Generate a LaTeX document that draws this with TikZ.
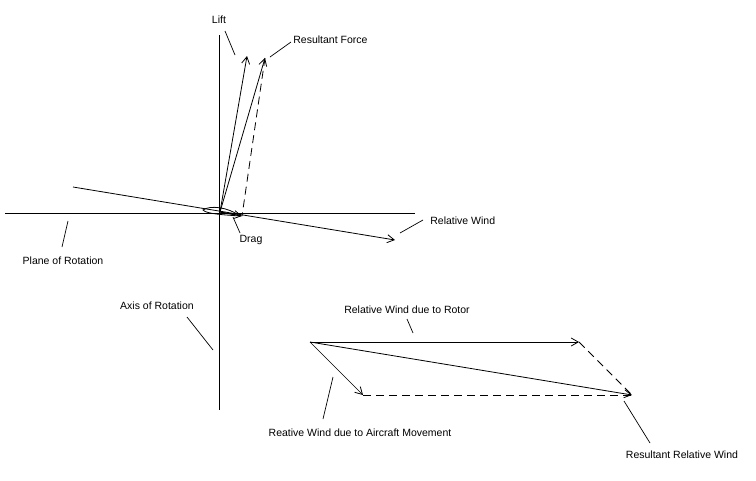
\documentclass[tikz,border=0pt]{standalone}
\usepackage{fontspec}
\setmainfont{Liberation Sans}
\usetikzlibrary{arrows.meta}
\begin{document}
\begin{tikzpicture}[x=1pt,y=-1pt,
  line width=0.8pt,
  vec/.style={-{Straight Barb[length=7pt,width=8pt,line width=0.8pt]}},
  dsh/.style={dash pattern=on 8pt off 5pt},
  lead/.style={line width=0.7pt},
  lbl/.style={font=\fontsize{10.5}{12}\selectfont, inner sep=0pt}]
\useasboundingbox (0,0) rectangle (756,480);
% key points
\coordinate (O) at (220,212);
\coordinate (hl) at (5,213);
\coordinate (hr) at (415,213);
\coordinate (vt) at (219,35);
\coordinate (vb) at (219,410);
\coordinate (cs) at (73,187);
\coordinate (rw) at (395,240);
\coordinate (lift) at (247,56);
\coordinate (res) at (265,58);
\coordinate (drag) at (242,216);
% axes
\draw (hl) -- (hr);
\draw (vt) -- (vb);
% chord / relative wind
\draw[vec] (cs) -- (rw);
% airfoil
\draw (240,216) .. controls (228,207) and (210,205) .. (203,210)
      .. controls (206,214) and (226,215) .. (240,216);
% forces
\draw[vec] (O) -- (lift);
\draw[vec] (O) -- (res);
\draw[vec, line width=1.2pt] (O) -- (drag);
\draw[dsh] (res) -- (drag);
% labels top diagram
\node[lbl] (tLift) at (219,20) {Lift};
\coordinate (l1a) at (225,31); \coordinate (l1b) at (235,55);
\draw[lead] (l1a) -- (l1b);
\node[lbl, anchor=west] (tRes) at (293,40) {Resultant Force};
\coordinate (l2a) at (291,42); \coordinate (l2b) at (270,57);
\draw[lead] (l2a) -- (l2b);
\node[lbl, anchor=west] (tRW) at (430,221) {Relative Wind};
\coordinate (l3a) at (423,220); \coordinate (l3b) at (400,233);
\draw[lead] (l3a) -- (l3b);
\node[lbl] (tDrag) at (251,240) {Drag};
\coordinate (l4a) at (233,217); \coordinate (l4b) at (240,233);
\draw[lead] (l4a) -- (l4b);
\node[lbl] (tPlane) at (63,261) {Plane of Rotation};
\coordinate (l5a) at (68,221); \coordinate (l5b) at (62,247);
\draw[lead] (l5a) -- (l5b);
\node[lbl] (tAxis) at (157,306) {Axis of Rotation};
\coordinate (l6a) at (187,317); \coordinate (l6b) at (213,350);
\draw[lead] (l6a) -- (l6b);
% second diagram
\coordinate (P) at (310,342);
\coordinate (rot) at (579,342);
\coordinate (rr) at (632,395);
\coordinate (ac) at (363,395);
\draw[vec] (P) -- (rot);
\draw[vec] (P) -- (rr);
\draw[vec, line width=0.6pt] (P) -- (ac);
\draw[dsh] (ac) -- (rr);
\draw[dsh] (rot) -- (rr);
\node[lbl] (tRot) at (407,310) {Relative Wind due to Rotor};
\coordinate (l7a) at (407,319); \coordinate (l7b) at (413,333);
\draw[lead] (l7a) -- (l7b);
\node[lbl] (tAc) at (360,433) {Reative Wind due to Aircraft Movement};
\coordinate (l8a) at (333,377); \coordinate (l8b) at (323,419);
\draw[lead] (l8a) -- (l8b);
\node[lbl] (tRR) at (682,455) {Resultant Relative Wind};
\coordinate (l9a) at (624,401); \coordinate (l9b) at (650,443);
\draw[lead] (l9a) -- (l9b);
\end{tikzpicture}
\end{document}
